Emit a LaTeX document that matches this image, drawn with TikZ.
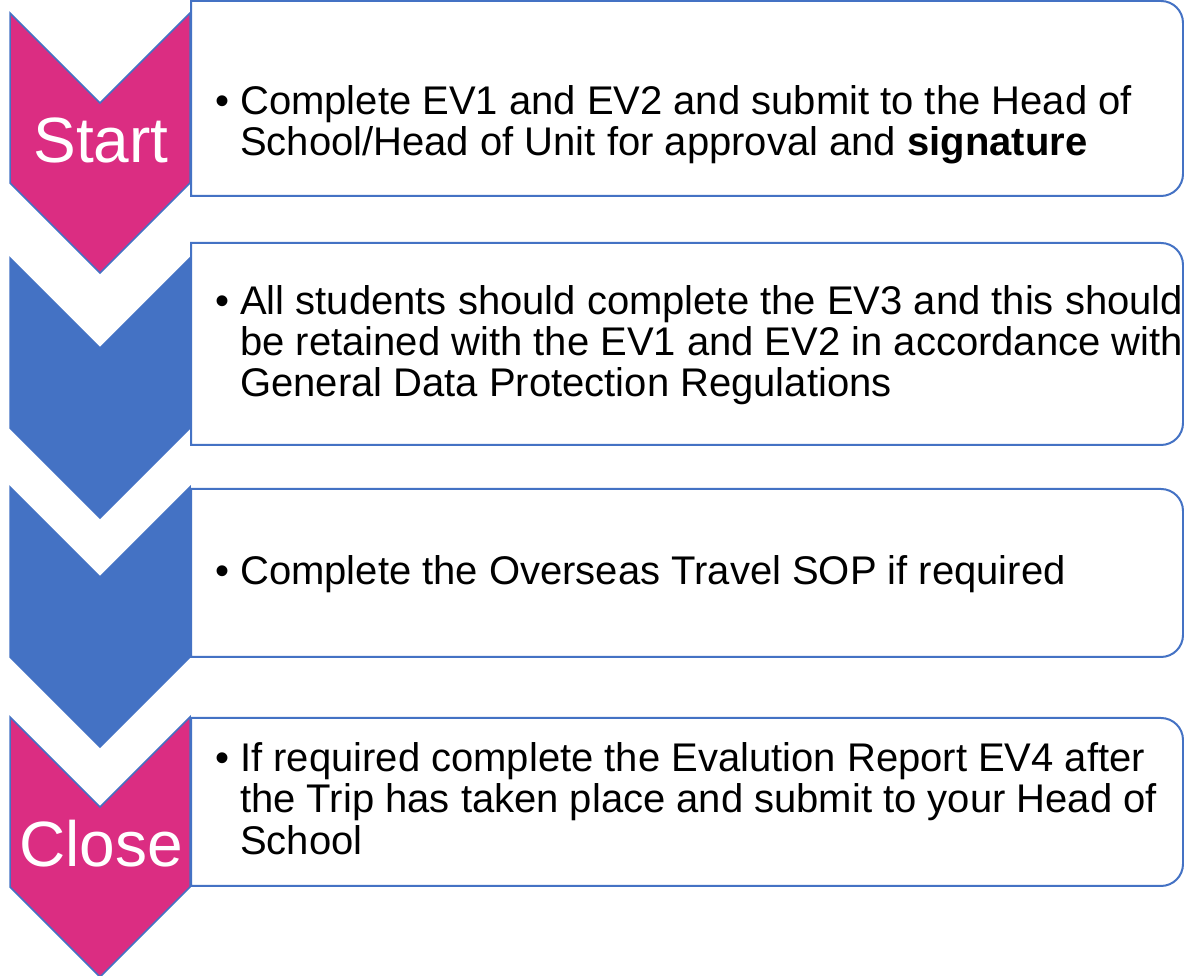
\documentclass[tikz,border=0pt]{standalone}
\usepackage{fontspec}
\setmainfont{Liberation Sans}
\definecolor{pinkc}{RGB}{219,45,130}
\definecolor{bluec}{RGB}{68,114,196}
\tikzset{
  chevpink/.style={fill=pinkc, draw=bluec, line width=1.5pt, line join=miter},
  chevblue/.style={fill=bluec, draw=bluec, line width=1.5pt, line join=miter},
  boxline/.style={draw=bluec, line width=2pt, fill=white},
  txt/.style={anchor=base west, inner sep=0pt, font=\fontsize{40}{41}\selectfont},
  bul/.style={anchor=base west, inner sep=0pt, font=\fontsize{40}{41}\selectfont},
  chevlabel/.style={anchor=base, inner sep=0pt, text=white, font=\fontsize{64}{70}\selectfont}
}
\newcommand{\chevron}[2]{%
  \draw[#2] (10,#1) -- (100,#1-90) -- (190,#1) -- (190,#1-170) -- (100,#1-260) -- (10,#1-170) -- cycle;}
\newcommand{\sidebox}[2]{%
  \draw[boxline] (191,#1) -- (1161,#1) arc[start angle=90,end angle=0,radius=22] -- (1183,#2+22) arc[start angle=0,end angle=-90,radius=22] -- (191,#2) -- cycle;}
\begin{document}
\begin{tikzpicture}[x=1pt,y=1pt]
\useasboundingbox (0,0) rectangle (1184,976);
% chevrons
\chevron{963}{chevpink}
\chevron{718}{chevblue}
\chevron{489}{chevblue}
\chevron{259}{chevpink}
% boxes
\sidebox{975}{780}
\sidebox{733}{531}
\sidebox{487}{319}
\sidebox{258}{90}
% chevron labels
\node[chevlabel] (start) at (101,813) {Start};
\node[chevlabel] (close) at (101,109) {Close};
% box 1
\node[bul] (b1) at (215,861) {\textbullet};
\node[txt] (t11) at (240,861) {Complete EV1 and EV2 and submit to the Head of};
\node[txt] (t12) at (240,820) {School/Head of Unit for approval and \textbf{signature}};
% box 2
\node[bul] (b2) at (215,661) {\textbullet};
\node[txt] (t21) at (240,661) {All students should complete the EV3 and this should};
\node[txt] (t22) at (240,620) {be retained with the EV1 and EV2 in accordance with};
\node[txt] (t23) at (240,579) {General Data Protection Regulations};
% box 3
\node[bul] (b3) at (215,391) {\textbullet};
\node[txt] (t31) at (240,391) {Complete the Overseas Travel SOP if required};
% box 4
\node[bul] (b4) at (215,204) {\textbullet};
\node[txt] (t41) at (240,204) {If required complete the Evalution Report EV4 after};
\node[txt] (t42) at (240,163) {the Trip has taken place and submit to your Head of};
\node[txt] (t43) at (240,121) {School};
\end{tikzpicture}
\end{document}
